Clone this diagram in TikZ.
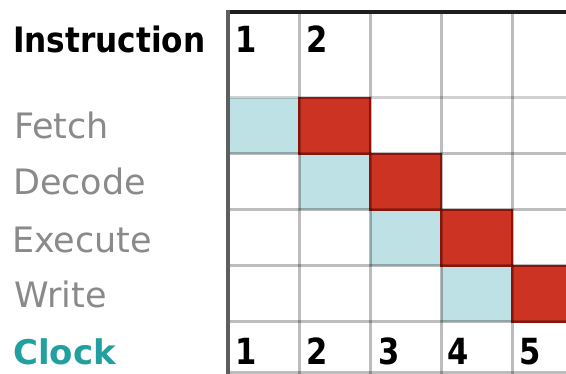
\documentclass[tikz,border=0pt]{standalone}
\usepackage{graphicx}
\usepackage{fontspec}
\setmainfont{DejaVu Sans}
\definecolor{labelgray}{HTML}{8A8A8A}
\definecolor{clockteal}{HTML}{22A0A0}
\definecolor{cellcyan}{HTML}{BDE1E4}
\definecolor{cellred}{HTML}{CC3322}
\definecolor{rededge}{HTML}{BC1A0E}
\definecolor{topline}{HTML}{1E1E1E}
\definecolor{leftline}{HTML}{5E5E5E}
\newcommand{\narrowbold}[2]{\scalebox{#1}[1]{\bfseries #2}}
\begin{document}
\begin{tikzpicture}[x=1pt,y=-1pt,
  lbl/.style={font=\fontsize{35}{40}\selectfont, anchor=base west, inner sep=0pt, text=labelgray},
  num/.style={font=\fontsize{36}{40}\selectfont, anchor=base west, inner sep=0pt, text=black},
  grid line/.style={line width=3pt, draw=black, draw opacity=0.26},
  cyancell/.style={fill=cellcyan},
  redcell/.style={fill=cellred, draw=rededge, line width=1.5pt}]
\useasboundingbox (0,0) rectangle (566,374);
\fill[white] (0,0) rectangle (566,374);
% cells
\path[cyancell] (228,98) rectangle (299,154);
\path[cyancell] (299,154) rectangle (370,210);
\path[cyancell] (370,210) rectangle (441,266);
\path[cyancell] (441,266) rectangle (512,322);
\path[redcell] (299,98) rectangle (370,154);
\path[redcell] (370,154) rectangle (441,210);
\path[redcell] (441,210) rectangle (512,266);
\path[redcell] (512,266) rectangle (567,322);
% grid
\foreach \xx in {299,370,441,512} \draw[grid line] (\xx,12) -- (\xx,375);
\draw[grid line, draw opacity=0.18] (228,98) -- (567,98);
\foreach \yy in {154,210,266,322,373} \draw[grid line] (228,\yy) -- (567,\yy);
\draw[line width=4pt, topline] (226,12) -- (567,12);
\draw[line width=4pt, leftline] (228,10) -- (228,375);
% labels
\node[lbl, text=black] (instr) at (13,53) {\narrowbold{0.89}{Instruction}};
\node[lbl] (fetch) at (14,139) {Fetch};
\node[lbl] (decode) at (13,195) {Decode};
\node[lbl] (execute) at (12,253) {Execute};
\node[lbl] (write) at (14,308) {Write};
\node[lbl, text=clockteal, font=\bfseries\fontsize{34}{40}\selectfont] (clock) at (13,365) {Clock};
% header numbers
\node[num] (h1) at (235,53) {\narrowbold{0.85}{1}};
\node[num] (h2) at (306,53) {\narrowbold{0.85}{2}};
% clock numbers
\node[num] (c1) at (235,365) {\narrowbold{0.85}{1}};
\node[num] (c2) at (306,365) {\narrowbold{0.85}{2}};
\node[num] (c3) at (378,365) {\narrowbold{0.85}{3}};
\node[num] (c4) at (447,365) {\narrowbold{0.85}{4}};
\node[num] (c5) at (519,365) {\narrowbold{0.85}{5}};
\end{tikzpicture}
\end{document}
